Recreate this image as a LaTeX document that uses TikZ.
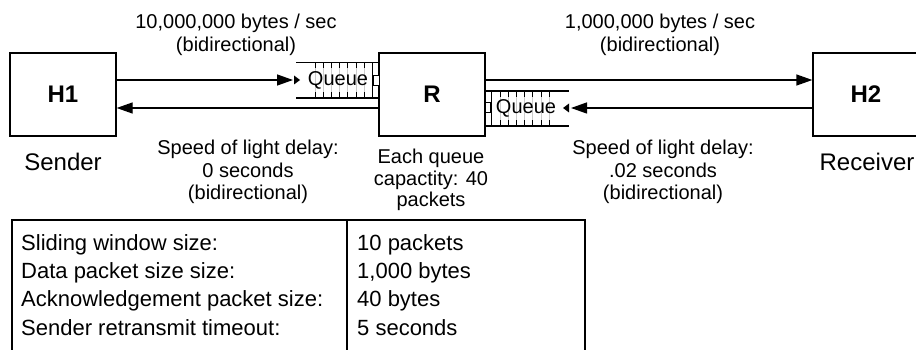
\documentclass[tikz,border=0pt]{standalone}
\usepackage{fontspec}
\setmainfont{Liberation Sans}
\usetikzlibrary{arrows.meta}

\begin{document}
\begin{tikzpicture}[x=1pt, y=-1pt, >={Triangle[length=16pt,width=11pt]},
  box/.style={draw, line width=1.3pt, minimum width=106pt, minimum height=83pt, inner sep=0pt, font=\fontsize{24}{26}\selectfont\bfseries},
  link/.style={->, line width=1.3pt},
  lbl/.style={align=center, inner sep=0pt, font=\fontsize{20}{22.5}\selectfont},
  cell/.style={inner sep=0pt, anchor=base west, font=\fontsize{22}{24}\selectfont}]
\useasboundingbox (0,0) rectangle (916,350);

% hosts and router
\node[box] (h1) at (63,94.5) {H1};
\node[box] (r) at (432,94.5) {R};
\node[box] (h2) at (866,94.5) {H2};
\node[font=\fontsize{24}{26}\selectfont, inner sep=0pt] (snd) at (63,162) {Sender};
\node[font=\fontsize{24}{26}\selectfont, inner sep=0pt] (rcv) at (867,162) {Receiver};

% queue in front of R (from H1)
\draw[line width=1.3pt] (296,62.5) -- (379,62.5);
\draw[line width=1.3pt] (296,98) -- (379,98);
\foreach \i in {0,...,6} {
  \draw[gray!40, line width=1pt] ({315+8.2*\i},62.5) -- ++(0,35.5);
  \draw[line width=1pt] ({315+8.2*\i},62.5) -- ++(0,6);
  \draw[line width=1pt] ({315+8.2*\i},98) -- ++(0,-6);
}
\draw[line width=1pt] (372.5,62.5) -- (372.5,98);
\draw[line width=1pt, fill=white] (373.5,76) rectangle (379,86);
\node[lbl] (q1txt) at (338,80) {Queue};
\fill (294,75.5) -- (300,80) -- (294,84.5) -- cycle;

% queue after R (from H2)
\draw[line width=1.3pt] (485,91) -- (569,91);
\draw[line width=1.3pt] (485,126) -- (569,126);
\foreach \i in {0,...,6} {
  \draw[gray!40, line width=1pt] ({500+8.2*\i},91) -- ++(0,35);
  \draw[line width=1pt] ({500+8.2*\i},91) -- ++(0,6);
  \draw[line width=1pt] ({500+8.2*\i},126) -- ++(0,-6);
}
\draw[line width=1pt] (491.5,91) -- (491.5,126);
\draw[line width=1pt, fill=white] (485,103) rectangle (490.5,113);
\node[lbl] (q2txt) at (526,108) {Queue};
\fill (569,103.5) -- (563,108) -- (569,112.5) -- cycle;

% links
\coordinate (q1) at (293,80);
\coordinate (q2) at (571,108);
\draw[link] ([yshift=14.5pt]h1.east) -- (q1);
\draw[link] ([yshift=-13.5pt]r.west) -- ([yshift=-13.5pt]h1.east);
\draw[link] ([yshift=14.5pt]r.east) -- ([yshift=14.5pt]h2.west);
\draw[link] ([yshift=-13.5pt]h2.west) -- (q2);

% link labels
\node[lbl] (bw1) at (236,35) {10,000,000 bytes / sec\\(bidirectional)};
\node[lbl] (bw2) at (660,35) {1,000,000 bytes / sec\\(bidirectional)};
\node[lbl] (dl1) at (248,172) {Speed of light delay:\\0 seconds\\(bidirectional)};
\node[lbl] (dl2) at (663,172) {Speed of light delay:\\.02 seconds\\(bidirectional)};
\node[lbl, font=\fontsize{20}{21.7}\selectfont] (cap) at (431,180) {Each queue\\capactity: 40\\packets};

% parameter table
\draw[line width=1.3pt] (12,352) -- (12,220) -- (585,220) -- (585,352);
\draw[line width=1.3pt] (347,220) -- (347,352);
\node[cell] (k1) at (21,250) {Sliding window size:};
\node[cell] (k2) at (21,278) {Data packet size size:};
\node[cell] (k3) at (21,306.5) {Acknowledgement packet size:};
\node[cell] (k4) at (21,335) {Sender retransmit timeout:};
\node[cell] (v1) at (357,250) {10 packets};
\node[cell] (v2) at (357,278) {1,000 bytes};
\node[cell] (v3) at (357,306.5) {40 bytes};
\node[cell] (v4) at (357,335) {5 seconds};
\end{tikzpicture}
\end{document}
